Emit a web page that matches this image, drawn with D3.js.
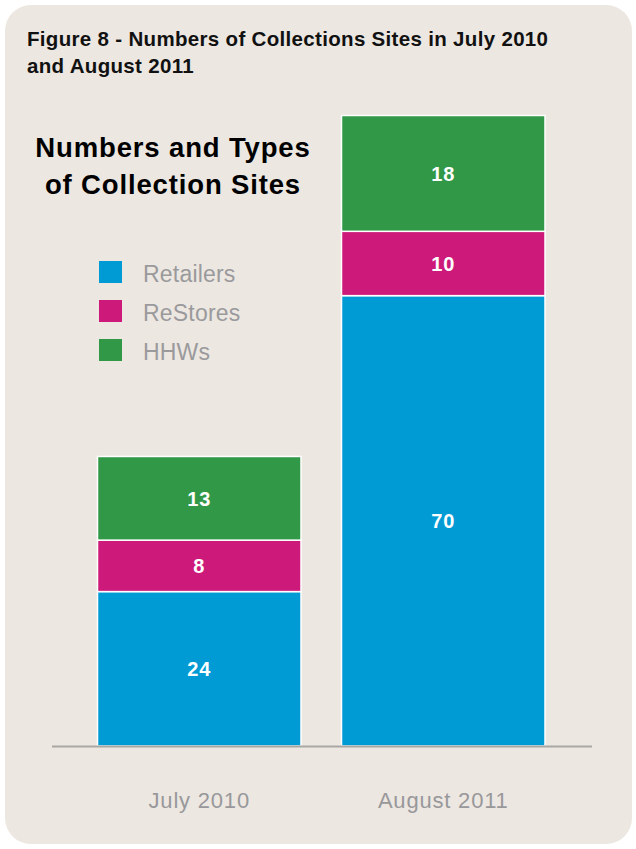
<!DOCTYPE html>
<html>
<head>
<meta charset="utf-8">
<script src="https://cdn.jsdelivr.net/npm/d3@7/dist/d3.min.js"></script>
<style>
  html, body { margin: 0; padding: 0; background: #ffffff; }
  svg { display: block; font-family: "Liberation Sans", Arial, Helvetica, sans-serif; }
</style>
</head>
<body>
<svg id="chart" width="636" height="849"></svg>
<script>
// Collection site counts by period and site type
const periods = ["July 2010", "August 2011"];
const siteTypes = ["Retailers", "ReStores", "HHWs"];
const retailers = [24, 70];
const reStores = [8, 10];
const hhws = [13, 18];
const typeColors = ["#009bd4", "#cd1a7a", "#319848"];

const rows = periods.map((p, i) => ({
  period: p,
  Retailers: retailers[i],
  ReStores: reStores[i],
  HHWs: hhws[i]
}));

const svg = d3.select("#chart");

// Card background
svg.append("rect")
  .attr("x", 5).attr("y", 5)
  .attr("width", 627).attr("height", 839)
  .attr("rx", 26).attr("ry", 26)
  .attr("fill", "#ece7e1");

// Figure caption
svg.append("text")
  .attr("font-size", 20.5).attr("font-weight", "bold").attr("fill", "#111")
  .attr("letter-spacing", 0.32)
  .selectAll("tspan")
  .data(["Figure 8 - Numbers of Collections Sites in July 2010", "and August 2011"])
  .join("tspan")
  .attr("x", 27)
  .attr("y", (d, i) => 46 + i * 26.5)
  .text(d => d);

// Chart heading
svg.append("text")
  .attr("text-anchor", "middle")
  .attr("font-size", 27.5).attr("font-weight", "bold").attr("fill", "#000")
  .attr("letter-spacing", 0.85)
  .selectAll("tspan")
  .data(["Numbers and Types", "of Collection Sites"])
  .join("tspan")
  .attr("x", 173)
  .attr("y", (d, i) => 156.7 + i * 37)
  .text(d => d);

// Scales
const x = d3.scaleBand()
  .domain(periods)
  .range([97.5, 545])
  .paddingInner(0.166)
  .paddingOuter(0);

const y = d3.scaleLinear()
  .domain([0, 98])
  .range([746, 115.5]);

const color = d3.scaleOrdinal().domain(siteTypes).range(typeColors);

const stacked = d3.stack().keys(siteTypes)(rows);

// Stacked bars
const layers = svg.append("g")
  .selectAll("g")
  .data(stacked)
  .join("g")
  .attr("fill", d => color(d.key));

layers.selectAll("rect")
  .data(d => d)
  .join("rect")
  .attr("x", d => x(d.data.period))
  .attr("y", d => y(d[1]))
  .attr("width", x.bandwidth())
  .attr("height", d => y(d[0]) - y(d[1]))
  .attr("stroke", "#ffffff")
  .attr("stroke-width", 1.5);

// Segment value labels
layers.selectAll("text")
  .data(d => d)
  .join("text")
  .attr("x", d => x(d.data.period) + x.bandwidth() / 2)
  .attr("y", d => (y(d[0]) + y(d[1])) / 2)
  .attr("dy", "0.36em")
  .attr("text-anchor", "middle")
  .attr("font-size", 20).attr("font-weight", "bold")
  .attr("letter-spacing", 0.8)
  .attr("fill", "#ffffff")
  .text(d => d[1] - d[0]);

// Baseline
svg.append("line")
  .attr("x1", 52).attr("x2", 592)
  .attr("y1", y(0) + 0.5).attr("y2", y(0) + 0.5)
  .attr("stroke", "#a9a7a4").attr("stroke-width", 2);

// Category labels
const xAxis = d3.axisBottom(x).tickSize(0).tickPadding(0);
const axisG = svg.append("g")
  .attr("transform", `translate(0, ${y(0)})`)
  .call(xAxis);
axisG.select(".domain").remove();
axisG.selectAll("text")
  .attr("y", 61.7)
  .attr("dy", 0)
  .attr("font-size", 22)
  .attr("letter-spacing", 0.8)
  .attr("font-family", "\"Liberation Sans\", Arial, sans-serif")
  .attr("fill", "#98989b");

// Legend
const legend = svg.append("g")
  .selectAll("g")
  .data(siteTypes)
  .join("g")
  .attr("transform", (d, i) => `translate(99, ${261 + i * 39})`);

legend.append("rect")
  .attr("width", 23).attr("height", 22)
  .attr("fill", d => color(d));

legend.append("text")
  .attr("x", 44).attr("y", 20.7)
  .attr("font-size", 23)
  .attr("letter-spacing", 0.2)
  .attr("fill", "#9a9a9c")
  .text(d => d);
</script>
</body>
</html>
